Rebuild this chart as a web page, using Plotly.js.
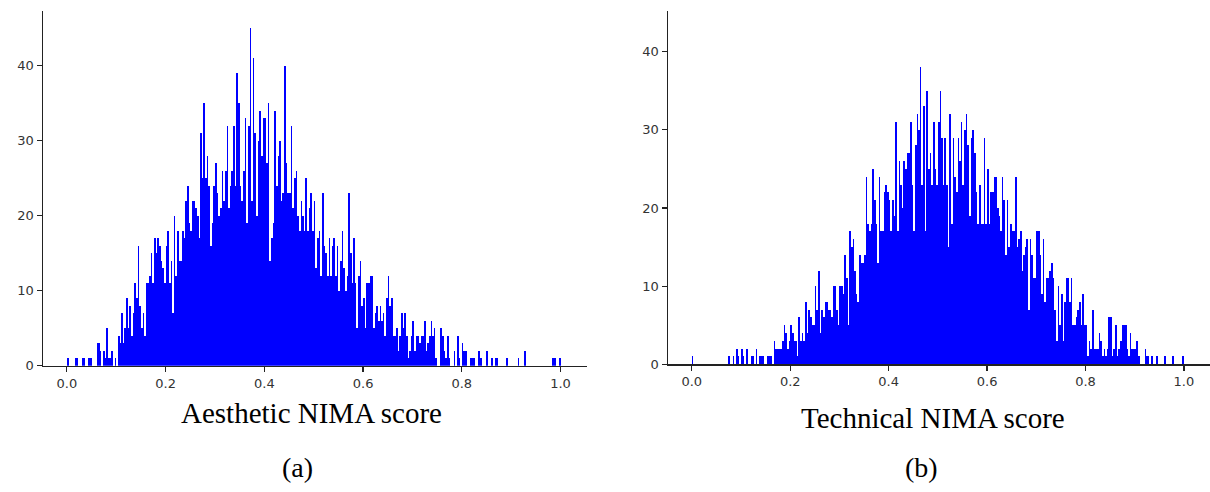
<!DOCTYPE html>
<html>
<head>
<meta charset="utf-8">
<script src="https://cdn.plot.ly/plotly-3.0.1.min.js"></script>
<style>html,body{margin:0;padding:0;background:#fff;}#chart{width:1210px;height:492px;}</style>
</head>
<body>
<div id="chart"></div>
<script>
// Histogram: 300 equal bins on [0, 1]
const binCount = 300;
const binLow = 0;
const binHigh = 1;

// Aesthetic NIMA score counts per bin
const aestheticCounts = [
  1,0,0,0,0,1,1,0,0,1,
  1,0,0,1,1,0,0,0,3,3,
  2,0,2,1,5,1,1,2,0,1,
  0,4,3,7,3,5,9,5,8,4,
  7,11,9,16,8,5,7,4,11,11,
  12,15,11,17,15,17,16,14,13,11,
  16,18,11,14,7,20,12,18,14,14,
  18,17,22,24,19,18,22,22,21,20,
  17,31,25,35,25,28,24,16,19,24,
  27,23,20,21,26,22,26,32,21,24,
  26,32,24,39,35,24,22,26,33,19,
  32,45,22,41,31,20,30,34,28,33,
  33,27,35,14,17,19,34,24,28,30,
  22,23,40,27,23,23,32,21,25,26,
  20,18,22,20,18,25,18,21,23,18,
  22,13,17,18,12,23,16,15,12,17,
  12,16,17,12,16,10,14,18,13,10,
  12,23,15,11,17,11,5,12,14,8,
  9,5,11,11,12,12,5,7,8,6,
  8,6,7,4,9,12,8,9,4,4,
  5,2,4,7,5,7,4,1,2,4,
  6,2,4,4,3,4,4,6,2,3,
  4,6,4,5,1,0,0,5,4,2,
  1,4,1,0,0,2,0,4,1,0,
  3,2,2,0,0,1,1,1,0,0,
  2,1,0,0,0,2,0,0,1,0,
  1,1,0,0,0,0,0,1,0,0,
  0,0,0,0,1,0,0,0,2,0,
  0,0,0,0,0,0,0,0,0,0,
  0,0,0,0,0,1,1,0,0,1
];

// Technical NIMA score counts per bin
const technicalCounts = [
  1,0,0,0,0,0,0,0,0,0,
  0,0,0,0,0,0,0,0,0,0,
  0,0,1,0,0,1,0,2,1,0,
  2,1,0,2,0,0,1,1,0,2,
  0,1,1,1,0,0,1,1,1,0,
  3,2,2,2,2,3,5,4,2,3,
  5,4,3,3,1,6,3,4,3,8,
  4,7,6,5,5,10,7,12,4,7,
  6,8,8,7,7,6,10,10,7,5,
  10,10,9,14,11,5,17,15,16,12,
  9,8,14,13,13,14,24,18,17,18,
  25,21,18,13,24,17,17,22,23,22,
  21,17,21,19,31,17,26,23,20,26,
  25,27,27,31,23,17,28,32,30,38,
  23,33,17,35,25,27,23,31,25,23,
  31,35,29,23,29,23,15,32,18,29,
  24,22,29,26,31,23,30,32,28,19,
  29,30,27,22,18,23,18,18,29,18,
  25,18,22,22,24,24,20,19,17,24,
  21,14,21,15,18,17,17,24,15,16,
  17,12,14,15,16,7,16,14,11,11,
  17,17,14,9,16,8,11,11,12,13,
  11,7,3,10,5,9,3,8,11,11,
  8,11,5,5,6,7,8,5,9,5,
  5,1,3,2,7,2,2,2,4,3,
  1,2,1,2,6,6,1,2,5,1,
  2,3,5,5,5,2,1,4,2,2,
  2,3,1,0,0,0,2,1,1,0,
  1,0,0,1,0,0,0,0,1,0,
  0,0,0,1,0,0,0,0,0,1
];

const xTickValues = [0, 0.2, 0.4, 0.6, 0.8, 1.0];
const xTickLabels = ['0.0', '0.2', '0.4', '0.6', '0.8', '1.0'];
const yTickValues = [0, 10, 20, 30, 40];
const xTitles = ['Aesthetic NIMA score', 'Technical NIMA score'];
const panelLabels = ['(a)', '(b)'];

const binWidth = (binHigh - binLow) / binCount;
const binCenters = aestheticCounts.map((_, i) => binLow + (i + 0.5) * binWidth);

const barStyle = {type: 'bar', width: binWidth, marker: {color: '#0000ff', line: {width: 0}}, hoverinfo: 'x+y'};
const traces = [
  Object.assign({}, barStyle, {x: binCenters, y: aestheticCounts, xaxis: 'x', yaxis: 'y'}),
  Object.assign({}, barStyle, {x: binCenters, y: technicalCounts, xaxis: 'x2', yaxis: 'y2'})
];

const W = 1210, H = 492;
const tickFont = {family: 'DejaVu Sans', size: 13, color: '#333333'};
const common = {
  showgrid: false, zeroline: false, showline: true, linecolor: '#222', linewidth: 1.2,
  ticks: 'outside', ticklen: 5, tickwidth: 1.2, tickcolor: '#222', tickfont: tickFont, fixedrange: true
};
const xCommon = Object.assign({}, common, {range: [-0.049, 1.053], tickmode: 'array', tickvals: xTickValues, ticktext: xTickLabels});
const yCommon = Object.assign({}, common, {tickmode: 'array', tickvals: yTickValues});

const titleFont = {family: 'Liberation Serif, Times New Roman, serif', size: 29, color: '#000'};
const labelFont = {family: 'Liberation Serif, Times New Roman, serif', size: 28, color: '#000'};

const layout = {
  width: W, height: H,
  margin: {l: 0, r: 0, t: 0, b: 0},
  paper_bgcolor: '#fff', plot_bgcolor: '#fff',
  showlegend: false, bargap: 0,
  xaxis: Object.assign({}, xCommon, {domain: [42.7 / W, 586.7 / W], anchor: 'y'}),
  yaxis: Object.assign({}, yCommon, {domain: [(H - 365.7) / H, (H - 11) / H], range: [0, 47.3], anchor: 'x'}),
  xaxis2: Object.assign({}, xCommon, {domain: [667.7 / W, 1], anchor: 'y2'}),
  yaxis2: Object.assign({}, yCommon, {domain: [(H - 364.3) / H, (H - 11) / H], range: [0, 45.2], anchor: 'x2'}),
  annotations: [
    {text: xTitles[0], xref: 'paper', yref: 'paper', x: 311 / W, y: (H - 413) / H, xanchor: 'center', yanchor: 'middle', showarrow: false, font: titleFont},
    {text: xTitles[1], xref: 'paper', yref: 'paper', x: 933 / W, y: (H - 418) / H, xanchor: 'center', yanchor: 'middle', showarrow: false, font: titleFont},
    {text: panelLabels[0], xref: 'paper', yref: 'paper', x: 297 / W, y: (H - 467) / H, xanchor: 'center', yanchor: 'middle', showarrow: false, font: labelFont},
    {text: panelLabels[1], xref: 'paper', yref: 'paper', x: 921 / W, y: (H - 467) / H, xanchor: 'center', yanchor: 'middle', showarrow: false, font: labelFont}
  ]
};

Plotly.newPlot('chart', traces, layout, {displayModeBar: false, staticPlot: true});
</script>
</body>
</html>
